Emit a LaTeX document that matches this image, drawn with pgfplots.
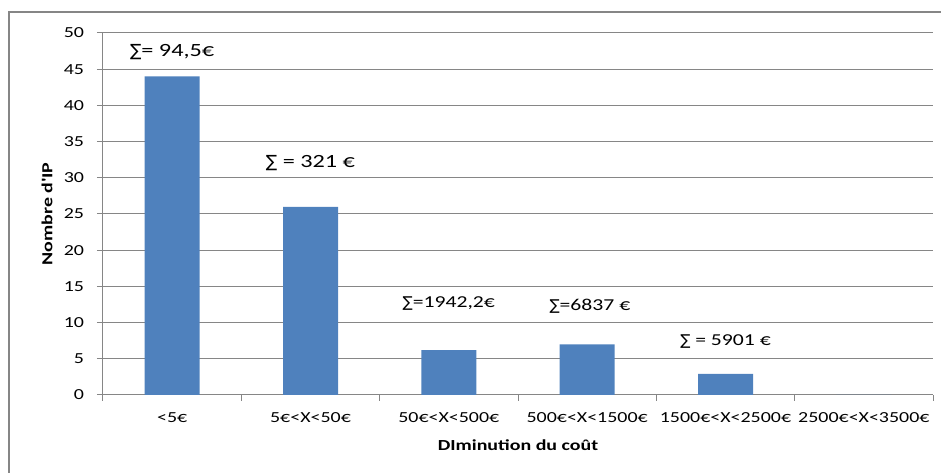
\documentclass[border=0pt]{standalone}
\usepackage{fontspec}
\setmainfont[FakeStretch=1.3]{Carlito}
\newfontfamily\symfont[FakeStretch=1.0]{DejaVu Sans}
\usepackage{pgfplots}
\pgfplotsset{compat=1.18}
\definecolor{barblue}{HTML}{4F81BD}
\definecolor{gridgray}{HTML}{868686}
\newcommand{\sg}{{\symfont\fontsize{0.9em}{1em}\selectfont ∑}}
\begin{document}
\begin{tikzpicture}
\useasboundingbox (0,0) rectangle (705.75pt,354.75pt);
\draw[gridgray, line width=1.5pt] (6.4pt,0pt) -- (6.4pt,345.75pt) -- (705.75pt,345.75pt);
\begin{axis}[
  at={(77.25pt,58.5pt)}, anchor=south west,
  scale only axis, width=622.5pt, height=271.5pt,
  xmin=-0.5, xmax=5.5, ymin=0, ymax=50,
  axis x line*=bottom, axis y line*=left,
  axis line style={gridgray, line width=0.75pt, -},
  ymajorgrids, major grid style={gridgray, line width=0.75pt},
  tick align=outside, major tick length=4.5pt,
  tick style={gridgray, line width=0.75pt},
  /pgf/number format/assume math mode=true,
  ytick={0,5,...,50},
  xtick={-0.5,0.5,...,5.5}, xticklabels={},
  extra x ticks={0,1,2,3,4,5},
  extra x tick labels={{<5€},{5€<X<50€},{50€<X<500€},{500€<X<1500€},{1500€<X<2500€},{2500€<X<3500€}},
  extra x tick style={major tick length=0pt},
  tick label style={font=\fontsize{11.5}{13}\selectfont, text=black},
  x tick label style={anchor=base, yshift=-20.5pt},
  y tick label style={anchor=east, inner sep=0pt, xshift=-9.5pt},
  xlabel={\bfseries DIminution du coût},
  ylabel={\bfseries Nombre d\textquotesingle IP},
  label style={font=\fontsize{11.5}{13}\selectfont},
  xlabel style={at={(axis description cs:0.5,-0.138)}, anchor=center},
  ylabel style={at={(axis description cs:-0.0675,0.5)}, anchor=center},
  clip=false,
]
\addplot[ybar, bar width=41.25pt, fill=barblue, draw=none] coordinates {
  (0,44) (1,26) (2,6.2) (3,7) (4,2.9) (5,0)
};
\node[font=\fontsize{14}{16}\selectfont] at (axis cs:0,47.3) {\sg= 94,5€};
\node[font=\fontsize{14}{16}\selectfont] at (axis cs:1,32) {\sg{} = 321 €};
\node[font=\fontsize{12.5}{14}\selectfont] at (axis cs:2,12.6) {\sg=1942,2€};
\node[font=\fontsize{12.5}{14}\selectfont] at (axis cs:3.02,12.2) {\sg=6837 €};
\node[font=\fontsize{12.5}{14}\selectfont] at (axis cs:4,7.4) {\sg{} = 5901 €};
\end{axis}
\end{tikzpicture}
\end{document}
